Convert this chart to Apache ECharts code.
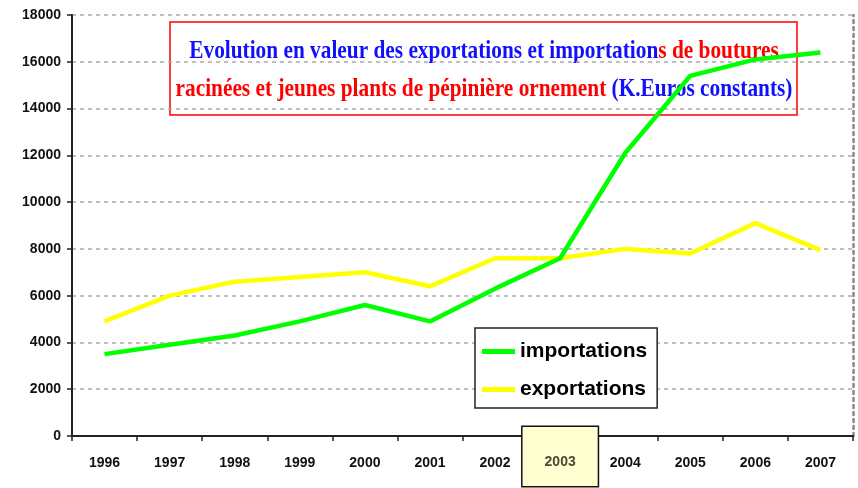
<!DOCTYPE html>
<html>
<head>
<meta charset="utf-8">
<script src="https://cdn.jsdelivr.net/npm/echarts@6/dist/echarts.min.js"></script>
<style>html,body{margin:0;padding:0;background:#fff}#c{width:858px;height:488px}</style>
</head>
<body>
<div id="c"></div>
<script>
const years = ['1996','1997','1998','1999','2000','2001','2002','2003','2004','2005','2006','2007'];
const importations = [3500, 3900, 4300, 4900, 5600, 4900, 6300, 7600, 12100, 15400, 16100, 16400];
const exportations = [4900, 6000, 6600, 6800, 7000, 6400, 7600, 7600, 8000, 7800, 9100, 7950];
const yTicks = { min: 0, max: 18000, interval: 2000 };
const highlightYear = '2003';

const chart = echarts.init(document.getElementById('c'), null, { renderer: 'canvas' });
const labelFont = { fontFamily: 'Liberation Sans, Arial, sans-serif', fontWeight: 'bold', fontSize: 14, color: '#111' };

chart.setOption({
  backgroundColor: '#fff',
  animation: false,
  grid: { left: 72, right: 5, top: 15, bottom: 52 },
  xAxis: {
    type: 'category',
    data: years,
    boundaryGap: true,
    axisLine: { lineStyle: { color: '#222', width: 2 } },
    axisTick: { show: true, length: 5, lineStyle: { color: '#222', width: 1.5 } },
    axisLabel: {
      interval: 0,
      margin: 20.5,
      verticalAlign: 'middle',
      formatter: v => v === highlightYear ? '{hl|' + v + '}' : '{n|' + v + '}',
      rich: {
        n: Object.assign({ padding: [13, 0, 0, 0], lineHeight: 14 }, labelFont),
        hl: Object.assign({}, labelFont, {
          color: '#4a4a30', lineHeight: 14,
          backgroundColor: '#ffffd2', borderColor: '#111', borderWidth: 1.5,
          padding: [28, 22, 17, 22]
        })
      }
    }
  },
  yAxis: [{
    type: 'value',
    min: yTicks.min, max: yTicks.max, interval: yTicks.interval,
    axisLine: { show: true, lineStyle: { color: '#222', width: 2 } },
    axisTick: { show: true, length: 5, lineStyle: { color: '#222', width: 1.5 } },
    axisLabel: Object.assign({ margin: 11, formatter: v => String(v) }, labelFont),
    splitLine: { show: true, lineStyle: { color: '#aaa', width: 1.5, type: [4, 4] } }
  }, {
    type: 'value', position: 'right',
    min: yTicks.min, max: yTicks.max, interval: yTicks.interval,
    axisLine: { show: true, lineStyle: { color: '#888', width: 2.5, type: [3, 4] } },
    axisTick: { show: false }, axisLabel: { show: false }, splitLine: { show: false }
  }],
  legend: {
    orient: 'vertical',
    left: 475, top: 328,
    data: ['importations', 'exportations'],
    backgroundColor: '#fff',
    borderColor: '#222', borderWidth: 1.5,
    padding: [13, 10, 8, 7],
    itemWidth: 33, itemHeight: 5, itemGap: 17,
    icon: 'rect',
    textStyle: { fontFamily: 'Liberation Sans, Arial, sans-serif', fontWeight: 'bold', fontSize: 21, color: '#000' }
  },
  series: [
    { name: 'importations', type: 'line', data: importations, showSymbol: false, symbol: 'none',
      lineStyle: { color: '#00ff00', width: 4.5 }, itemStyle: { color: '#00ff00' }, z: 3 },
    { name: 'exportations', type: 'line', data: exportations, showSymbol: false, symbol: 'none',
      lineStyle: { color: '#ffff00', width: 4.5 }, itemStyle: { color: '#ffff00' }, z: 2 }
  ],
  graphic: [{
    type: 'group', z: 100,
    children: [
      { type: 'rect', shape: { x: 170, y: 22, width: 627, height: 93 },
        style: { fill: 'rgba(255,255,255,0)', stroke: '#ff0000', lineWidth: 1.5 } },
      { type: 'text', x: 484, y: 70, scaleX: 0.82, scaleY: 1,
        style: {
          text: '{b|Evolution en valeur des exportations et importation}{r|s de boutures}\n{r|racinées et jeunes plants de pépinière ornement }{b|(K.Euros constants)}',
          align: 'center', verticalAlign: 'middle',
          font: 'bold 26px "Liberation Serif", "Times New Roman", serif',
          lineHeight: 38,
          rich: {
            b: { fill: '#1010ff', font: 'bold 26px "Liberation Serif", "Times New Roman", serif', lineHeight: 38 },
            r: { fill: '#ff0000', font: 'bold 26px "Liberation Serif", "Times New Roman", serif', lineHeight: 38 }
          }
        } }
    ]
  }]
});
</script>
</body>
</html>
